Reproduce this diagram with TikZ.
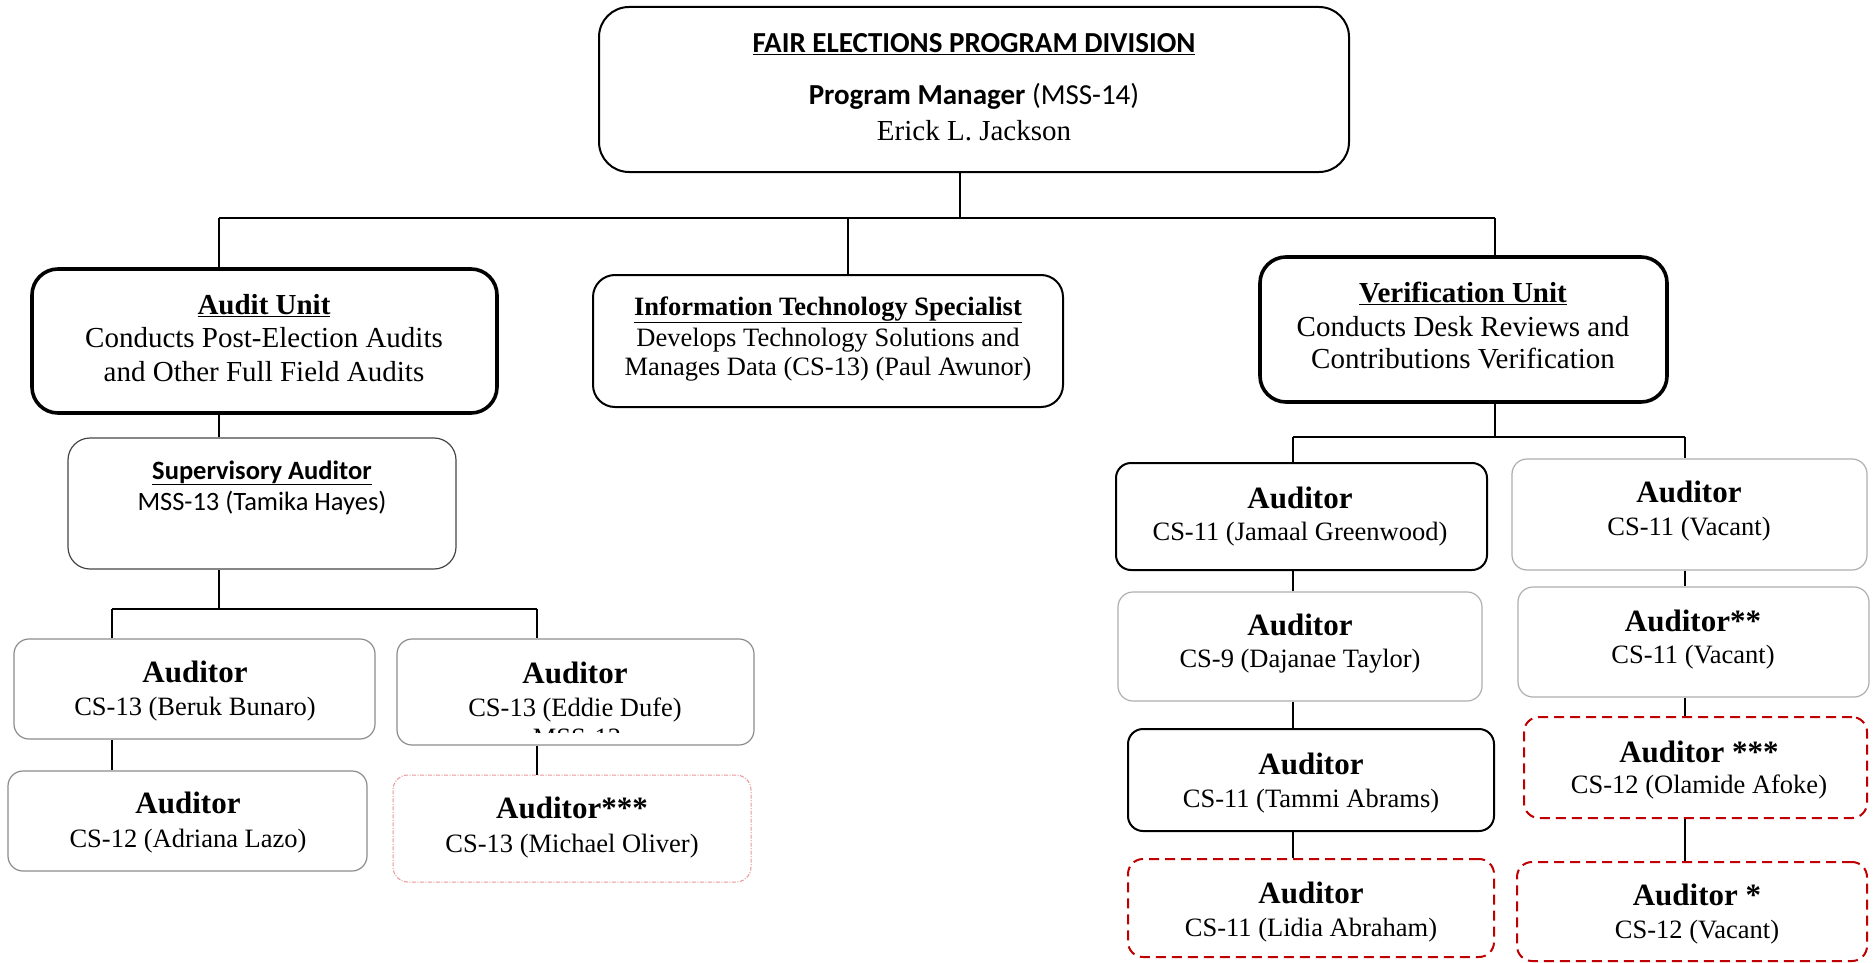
\documentclass[tikz,border=0pt]{standalone}
\usepackage{fontspec}
\setmainfont{Liberation Serif}
\newfontfamily\calib{Carlito}
\usetikzlibrary{fit}
\definecolor{vacred}{RGB}{192,0,0}
\definecolor{softred}{RGB}{232,150,150}
\definecolor{midgray}{RGB}{140,140,140}
\definecolor{lightgray}{RGB}{175,175,175}
\definecolor{darkgray}{RGB}{70,70,70}

\tikzset{
  base box/.style={inner sep=0pt, rounded corners=15pt},
  mgrbox/.style={base box, draw, line width=2pt, rounded corners=30pt},
  unitbox/.style={base box, draw, line width=3.6pt, rounded corners=26pt},
  itbox/.style={base box, draw, line width=2pt, rounded corners=22pt},
  supbox/.style={base box, draw=darkgray, line width=1.2pt, rounded corners=22pt},
  solidbox/.style={base box, draw, line width=2pt},
  graybox/.style={base box, draw=midgray, line width=1.2pt},
  palebox/.style={base box, draw=lightgray, line width=1.2pt},
  vacbox/.style={base box, draw=vacred, line width=2pt, dash pattern=on 10pt off 6pt},
  pinkbox/.style={base box, draw=softred, line width=1pt, dash pattern=on 4pt off 1.5pt on 1pt off 1.5pt},
  conn/.style={draw, line width=2pt},
  txt/.style={anchor=base, inner sep=0pt},
  ttl/.style={txt, font=\fontsize{31}{31}\selectfont\bfseries},
  sub/.style={txt, font=\fontsize{26.5}{26.5}\selectfont},
  big/.style={txt, font=\fontsize{29}{29}\selectfont},
  calbig/.style={txt, font=\fontsize{29}{29}\selectfont\calib},
  calsub/.style={txt, font=\fontsize{26.5}{26.5}\selectfont\calib},
}

\begin{document}
\begin{tikzpicture}[x=1pt,y=-1pt]
\useasboundingbox (0,0) rectangle (1876,963);
\fill[white] (0,0) rectangle (1876,963);

% ---------- boxes ----------
\node[mgrbox, fit={(599,7)(1349,172)}] (mgr) {};
\node[unitbox, fit={(32,269)(497,413)}] (audit) {};
\node[itbox, fit={(593,275)(1063,407)}] (it) {};
\node[unitbox, fit={(1260,257)(1667,402)}] (verif) {};
\node[supbox, fit={(68,438)(456,569)}] (sup) {};

\node[graybox, fit={(14,639)(375,739)}] (beruk) {};
\node[graybox, fit={(397,639)(754,745)}] (eddie) {};
\node[graybox, fit={(8,771)(367,871)}] (adriana) {};
\node[pinkbox, fit={(393,775)(751,882)}] (michael) {};

\node[solidbox, fit={(1116,463)(1487,570)}] (jamaal) {};
\node[palebox, fit={(1118,592)(1482,701)}] (dajanae) {};
\node[solidbox, fit={(1128,729)(1494,831)}] (tammi) {};
\node[vacbox, fit={(1128,859)(1494,957)}] (lidia) {};

\node[palebox, fit={(1512,459)(1867,570)}] (vacA) {};
\node[palebox, fit={(1518,587)(1869,697)}] (vacB) {};
\node[vacbox, fit={(1524,717)(1867,818)}] (olamide) {};
\node[vacbox, fit={(1517,862)(1867,961)}] (vacC) {};

% ---------- texts ----------
\node[calbig] (mgrT) at (974,53) {\bfseries\underline{FAIR ELECTIONS PROGRAM DIVISION}};
\node[calbig] (mgrR) at (974,105) {\textbf{Program Manager} (MSS-14)};
\node[big] (mgrN) at (974,140) {Erick L. Jackson};

\node[big] (auditT) at (264,314) {\bfseries\underline{Audit Unit}};
\node[big] (auditA) at (264,347) {Conducts Post-Election Audits};
\node[big] (auditB) at (264,381) {and Other Full Field Audits};

\node[sub] (itT) at (828,315) {\bfseries\underline{Information Technology Specialist}};
\node[sub] (itA) at (828,346) {Develops Technology Solutions and};
\node[sub] (itB) at (828,375) {Manages Data (CS-13) (Paul Awunor)};

\node[big] (verifT) at (1463,302) {\bfseries\underline{Verification Unit}};
\node[big] (verifA) at (1463,336) {Conducts Desk Reviews and};
\node[big] (verifB) at (1463,368) {Contributions Verification};

\node[calsub] (supT) at (262,479) {\bfseries\underline{Supervisory Auditor}};
\node[calsub] (supN) at (262,510) {MSS-13 (Tamika Hayes)};

\node[ttl] (berukT) at (195,682) {Auditor};
\node[sub] (berukN) at (195,715) {CS-13 (Beruk Bunaro)};
\node[ttl] (eddieT) at (575,683) {Auditor};
\node[sub] (eddieN) at (575,716) {CS-13 (Eddie Dufe)};
\begin{scope}
  % second line of this box is cut off by its frame
  \clip (eddie.west |- 0,720) rectangle (eddie.east |- 0,732);
  \node[sub] (eddieX) at (577,746) {MSS-12};
\end{scope}
\node[ttl] (adrianaT) at (188,813) {Auditor};
\node[sub] (adrianaN) at (188,847) {CS-12 (Adriana Lazo)};
\node[ttl] (michaelT) at (572,818) {Auditor***};
\node[sub] (michaelN) at (572,852) {CS-13 (Michael Oliver)};

\node[ttl] (jamaalT) at (1300,508) {Auditor};
\node[sub] (jamaalN) at (1300,540) {CS-11 (Jamaal Greenwood)};
\node[ttl] (dajanaeT) at (1300,635) {Auditor};
\node[sub] (dajanaeN) at (1300,667) {CS-9 (Dajanae Taylor)};
\node[ttl] (tammiT) at (1311,774) {Auditor};
\node[sub] (tammiN) at (1311,807) {CS-11 (Tammi Abrams)};
\node[ttl] (lidiaT) at (1311,903) {Auditor};
\node[sub] (lidiaN) at (1311,936) {CS-11 (Lidia Abraham)};

\node[ttl] (vacAT) at (1689,502) {Auditor};
\node[sub] (vacAN) at (1689,535) {CS-11 (Vacant)};
\node[ttl] (vacBT) at (1693,631) {Auditor**};
\node[sub] (vacBN) at (1693,663) {CS-11 (Vacant)};
\node[ttl] (olamideT) at (1699,762) {Auditor ***};
\node[sub] (olamideN) at (1699,793) {CS-12 (Olamide Afoke)};
\node[ttl] (vacCT) at (1697,905) {Auditor *};
\node[sub] (vacCN) at (1697,938) {CS-12 (Vacant)};

% ---------- connectors ----------
\coordinate (busC) at (960,218);
\coordinate (busW) at (219,218);
\coordinate (busIT) at (848,218);
\coordinate (busE) at (1495,218);
\draw[conn] (mgr.south -| busC) -- (busC);
\draw[conn] (busW) -- (busE);
\draw[conn] (busW) -- (busW |- audit.north);
\draw[conn] (busIT) -- (busIT |- it.north);
\draw[conn] (busE) -- (busE |- verif.north);

% audit unit branch
\coordinate (aBus) at (219,609);
\coordinate (aBusW) at (112,609);
\coordinate (aBusE) at (537,609);
\draw[conn] (busW |- audit.south) -- (busW |- sup.north);
\draw[conn] (busW |- sup.south) -- (aBus);
\draw[conn] (aBusW) -- (aBusE);
\draw[conn] (aBusW) -- (aBusW |- beruk.north);
\draw[conn] (aBusE) -- (aBusE |- eddie.north);
\draw[conn] (aBusW |- beruk.south) -- (aBusW |- adriana.north);
\draw[conn] (aBusE |- eddie.south) -- (aBusE |- michael.north);

% verification unit branch
\coordinate (vBus) at (1495,437);
\coordinate (vBusW) at (1293,437);
\coordinate (vBusE) at (1685,437);
\draw[conn] (busE |- verif.south) -- (vBus);
\draw[conn] (vBusW) -- (vBusE);
\draw[conn] (vBusW) -- (vBusW |- jamaal.north);
\draw[conn] (vBusE) -- (vBusE |- vacA.north);
\draw[conn] (vBusW |- jamaal.south) -- (vBusW |- dajanae.north);
\draw[conn] (vBusW |- dajanae.south) -- (vBusW |- tammi.north);
\draw[conn] (vBusW |- tammi.south) -- (vBusW |- lidia.north);
\draw[conn] (vBusE |- vacA.south) -- (vBusE |- vacB.north);
\draw[conn] (vBusE |- vacB.south) -- (vBusE |- olamide.north);
\draw[conn] (vBusE |- olamide.south) -- (vBusE |- vacC.north);
\end{tikzpicture}
\end{document}
